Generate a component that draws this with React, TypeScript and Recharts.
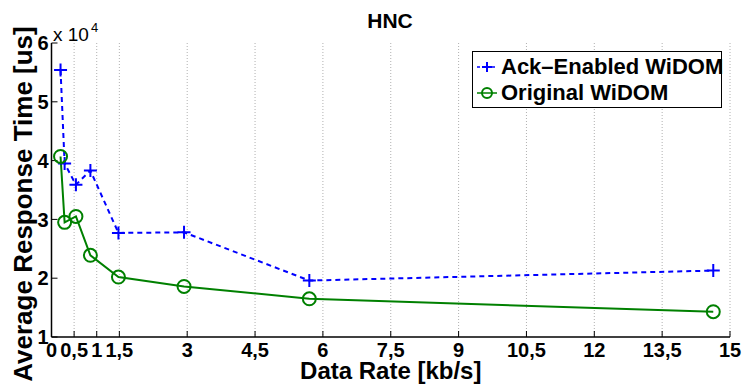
import { LineChart, Line, XAxis, YAxis, CartesianGrid, Legend } from "recharts";

const rates = [0.2, 0.29, 0.54, 0.86, 1.48, 2.93, 5.7, 14.63];
const ackEnabled = [55400, 39500, 35900, 38300, 27700, 27800, 19600, 21300];
const original = [40700, 29500, 30500, 23900, 20200, 18600, 16500, 14300];
const xTicks = [0, 0.5, 1, 1.5, 3, 4.5, 6, 7.5, 9, 10.5, 12, 13.5, 15];
const yTicks = [10000, 20000, 30000, 40000, 50000, 60000];

const data = rates.map((rate, i) => ({ rate, ack: ackEnabled[i], orig: original[i] }));

const BLUE = "#0000ff";
const GREEN = "#008000";
const FONT = "'Liberation Sans', Arial, Helvetica, sans-serif";

const fmtX = (v: number) => String(v).replace(".", ",");
const fmtY = (v: number) => String(v / 10000);

const PlusDot = (props: any) => {
  const { cx, cy, index } = props;
  if (cx == null || cy == null) return null;
  return (
    <path
      key={`p-${index}`}
      d={`M${cx - 6.5},${cy}H${cx + 6.5}M${cx},${cy - 6.5}V${cy + 6.5}`}
      stroke={BLUE}
      strokeWidth={2}
      fill="none"
    />
  );
};

const renderLegend = () => (
  <div
    style={{
      width: 250,
      height: 57,
      boxSizing: "border-box",
      border: "1px solid #000",
      background: "#fff",
      paddingTop: 2,
      fontFamily: FONT,
      fontWeight: "bold",
      fontSize: 22,
      color: "#000",
    }}
  >
    <div style={{ display: "flex", alignItems: "center", height: 26 }}>
      <svg width={28} height={26} style={{ flex: "none" }}>
        <line x1={4} x2={24} y1={13} y2={13} stroke={BLUE} strokeWidth={1.5} strokeDasharray="3 2" />
        <path d="M9,13H19M14,8V18" stroke={BLUE} strokeWidth={2} />
      </svg>
      <span style={{ whiteSpace: "nowrap" }}>Ack–Enabled WiDOM</span>
    </div>
    <div style={{ display: "flex", alignItems: "center", height: 26 }}>
      <svg width={28} height={26} style={{ flex: "none" }}>
        <line x1={4} x2={24} y1={13} y2={13} stroke={GREEN} strokeWidth={1.5} />
        <circle cx={14} cy={13} r={5} stroke={GREEN} strokeWidth={2} fill="none" />
      </svg>
      <span style={{ whiteSpace: "nowrap" }}>Original WiDOM</span>
    </div>
  </div>
);

export default function App() {
  const axisLine = { stroke: "#000", strokeWidth: 1.5 };
  const tickLine = { stroke: "#000", strokeWidth: 1 };
  const tickStyle = { fill: "#000", fontSize: 20, fontWeight: "bold", fontFamily: FONT };
  return (
    <div style={{ position: "absolute", left: 0, top: 0, width: 742, height: 389, background: "#fff", fontFamily: FONT }}>
      <LineChart width={742} height={389} data={data} margin={{ top: 43, right: 12, bottom: 0, left: 0 }}>
        <CartesianGrid xAxisId="b" yAxisId="l" horizontal={false} stroke="#b0b0b0" strokeDasharray="1 2" />
        <XAxis
          xAxisId="b"
          dataKey="rate"
          type="number"
          domain={[0, 15]}
          ticks={xTicks}
          interval={0}
          tickFormatter={fmtX}
          height={52}
          tickSize={-6}
          tickMargin={12}
          axisLine={axisLine}
          tickLine={tickLine}
          tick={tickStyle}
          label={{
            value: "Data Rate [kb/s]",
            position: "insideBottom",
            offset: 10,
            style: { fontSize: 24, fontWeight: "bold", fill: "#000", fontFamily: FONT },
          }}
        />
        <XAxis
          xAxisId="t"
          orientation="top"
          dataKey="rate"
          type="number"
          domain={[0, 15]}
          ticks={xTicks}
          interval={0}
          height={0}
          tickSize={6}
          tick={false}
          axisLine={axisLine}
          tickLine={tickLine}
        />
        <YAxis
          yAxisId="l"
          type="number"
          domain={[10000, 60000]}
          ticks={yTicks}
          interval={0}
          tickFormatter={fmtY}
          width={51.5}
          tickSize={-6}
          tickMargin={9}
          axisLine={axisLine}
          tickLine={tickLine}
          tick={tickStyle}
        />
        <YAxis
          yAxisId="r"
          orientation="right"
          type="number"
          domain={[10000, 60000]}
          ticks={yTicks}
          interval={0}
          width={0}
          tickSize={6}
          tick={false}
          axisLine={axisLine}
          tickLine={tickLine}
        />
        <Legend verticalAlign="middle" align="center" wrapperStyle={{ left: 472, top: 51, width: 250, height: 57 }} content={renderLegend} />
        <Line
          xAxisId="b"
          yAxisId="l"
          type="linear"
          dataKey="ack"
          name="Ack–Enabled WiDOM"
          stroke={BLUE}
          strokeWidth={2}
          strokeDasharray="5 4"
          dot={PlusDot}
          isAnimationActive={false}
        />
        <Line
          xAxisId="b"
          yAxisId="l"
          type="linear"
          dataKey="orig"
          name="Original WiDOM"
          stroke={GREEN}
          strokeWidth={2}
          dot={{ r: 6.5, stroke: GREEN, strokeWidth: 2, fill: "none" }}
          isAnimationActive={false}
        />
      </LineChart>
      <svg width={742} height={389} style={{ position: "absolute", left: 0, top: 0, pointerEvents: "none" }}>
        <text x={390} y={28} textAnchor="middle" fontSize={21} fontWeight="bold" fill="#000">
          HNC
        </text>
        <text x={53} y={41} fontSize={19} fill="#000">
          x 10
        </text>
        <text x={91} y={32} fontSize={13} fill="#000">
          4
        </text>
        <text
          x={32}
          y={204}
          transform="rotate(-90 32 204)"
          textAnchor="middle"
          fontSize={26}
          fontWeight="bold"
          fill="#000"
        >
          Average Response Time [us]
        </text>
      </svg>
    </div>
  );
}
